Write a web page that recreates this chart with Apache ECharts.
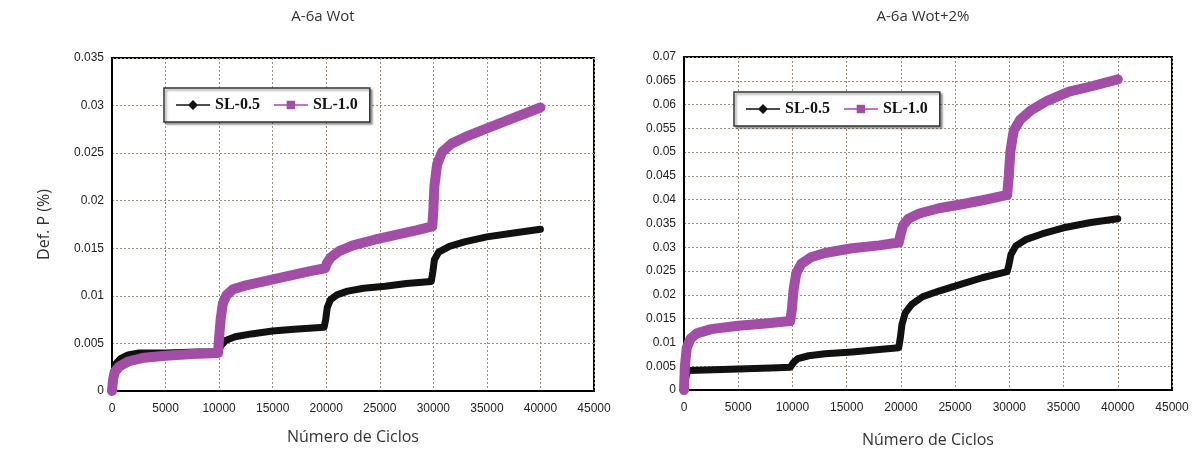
<!DOCTYPE html>
<html>
<head>
<meta charset="utf-8">
<script src="https://cdn.jsdelivr.net/npm/echarts@6/dist/echarts.min.js"></script>
<style>html,body{margin:0;padding:0;background:#fff}#c{width:1201px;height:463px}</style>
</head>
<body>
<div id="c"></div>
<script>
const titles = ['A-6a Wot', 'A-6a Wot+2%'];
const seriesNames = ['SL-0.5', 'SL-1.0'];
const xTicks = [0, 45000, 5000];
const yLeftTicks = [0, 0.035, 0.005];
const yRightTicks = [0, 0.07, 0.005];

// A-6a Wot
const wotSL05 = [[0,0],[100,0.0015],[300,0.0028],[800,0.0034],[1500,0.0038],[2500,0.004],[5000,0.004],[8000,0.0041],[9900,0.0041],[10200,0.0048],[10600,0.0053],[11500,0.0057],[13000,0.006],[15000,0.0063],[17000,0.0065],[19800,0.0067],[19950,0.0075],[20100,0.0088],[20400,0.0096],[21000,0.0101],[22000,0.0105],[23500,0.0108],[25500,0.011],[27500,0.0113],[29800,0.0115],[29950,0.0125],[30100,0.0138],[30500,0.0146],[31500,0.0152],[33000,0.0157],[35000,0.0162],[37500,0.0166],[40000,0.017]];
const wotSL10 = [[0,0],[100,0.0012],[250,0.002],[700,0.0026],[1500,0.0031],[3000,0.0035],[5000,0.0037],[7500,0.0039],[9900,0.004],[10000,0.0056],[10150,0.0076],[10350,0.0092],[10700,0.0101],[11300,0.0107],[12500,0.0111],[14500,0.0116],[16500,0.0121],[18500,0.0126],[19900,0.0129],[20050,0.0134],[20400,0.014],[21200,0.0147],[22500,0.0153],[24500,0.0159],[26500,0.0164],[28500,0.0169],[29900,0.0173],[30000,0.019],[30100,0.0215],[30350,0.0238],[30800,0.0251],[31700,0.026],[33000,0.0267],[35000,0.0276],[37500,0.0287],[40000,0.0298]];

// A-6a Wot+2%
const wot2SL05 = [[0,0],[150,0.0025],[350,0.0041],[2000,0.0042],[5000,0.0044],[8000,0.0046],[9800,0.0048],[10100,0.0058],[10500,0.0066],[11500,0.0072],[13000,0.0076],[15500,0.008],[18000,0.0085],[19800,0.0089],[19950,0.011],[20100,0.0138],[20400,0.0162],[21000,0.018],[22000,0.0196],[23500,0.0208],[25500,0.0222],[27500,0.0236],[29800,0.0249],[29950,0.0262],[30150,0.0285],[30600,0.0303],[31500,0.0316],[33000,0.0328],[35000,0.0341],[37500,0.0352],[40000,0.036]];
const wot2SL10 = [[0,0],[80,0.005],[250,0.0088],[600,0.0108],[1200,0.0119],[2500,0.0128],[5000,0.0135],[7500,0.014],[9800,0.0145],[9950,0.017],[10100,0.021],[10350,0.0245],[10800,0.0265],[11700,0.0279],[13000,0.0288],[15500,0.0298],[18000,0.0304],[19800,0.031],[19950,0.0325],[20200,0.0346],[20700,0.036],[21700,0.0371],[23500,0.0382],[26000,0.0392],[28000,0.0401],[29800,0.041],[29950,0.045],[30100,0.0502],[30400,0.0545],[31000,0.0568],[32000,0.0588],[33500,0.0608],[35500,0.0627],[37500,0.0638],[40000,0.0653]];

const purple = '#a24ea6';
const black = '#111111';
const gridColor = '#a08c7c';
const iconDiamond = 'path://M0,8.25H13.5L18,3.75L22.5,8.25H36V9.75H22.5L18,14.25L13.5,9.75H0Z';
const iconSquare = 'path://M0,8.25H13.5V4.5H22.5V8.25H36V9.75H22.5V13.5H13.5V9.75H0Z';

function xAx(i, gap) {
  return {
    gridIndex: i, type: 'value', min: xTicks[0], max: xTicks[1], interval: xTicks[2],
    name: 'Número de Ciclos', nameLocation: 'middle', nameGap: gap,
    nameTextStyle: { fontFamily: 'Open Sans', fontSize: 16, color: '#333' },
    axisLine: { show: true, lineStyle: { color: '#000', width: 2 } },
    axisTick: { show: false },
    axisLabel: { fontFamily: 'Liberation Sans', fontSize: 12, color: '#222', margin: 12,
      formatter: v => String(v) },
    splitLine: { show: true, lineStyle: { color: gridColor, type: [2, 2], width: 1 } }
  };
}
function yAx(i, t, name) {
  return {
    gridIndex: i, type: 'value', min: t[0], max: t[1], interval: t[2],
    name: name, nameLocation: 'middle', nameGap: 60,
    nameTextStyle: { fontFamily: 'Open Sans', fontSize: 16, color: '#333' },
    axisLine: { show: true, lineStyle: { color: '#000', width: 2 } },
    axisTick: { show: false },
    axisLabel: { fontFamily: 'Liberation Sans', fontSize: 12, color: '#222', margin: 8,
      formatter: v => String(+v.toFixed(4)) },
    splitLine: { show: true, lineStyle: { color: gridColor, type: [2, 2], width: 1 } }
  };
}
function legend(i, left, top) {
  return {
    show: true, left: left, top: top, orient: 'horizontal',
    data: [{ name: seriesNames[0], icon: iconDiamond }, { name: seriesNames[1], icon: iconSquare }],
    itemWidth: 34, itemHeight: 17, itemGap: 14,
    textStyle: { fontFamily: 'Liberation Serif', fontWeight: 'bold', fontSize: 16, color: '#111' },
    borderColor: '#333', borderWidth: 1.5, padding: [9, 12, 9, 12],
    backgroundColor: '#fff',
    shadowColor: 'rgba(0,0,0,0.35)', shadowOffsetX: 2, shadowOffsetY: 2, shadowBlur: 2
  };
}
function line(name, data, xi, color, w) {
  return {
    name: name, type: 'line', xAxisIndex: xi, yAxisIndex: xi, data: data,
    showSymbol: false, symbol: 'none', animation: false,
    lineStyle: { color: color, width: w, join: 'round', cap: 'round' },
    itemStyle: { color: color }
  };
}

const chart = echarts.init(document.getElementById('c'));
chart.setOption({
  backgroundColor: '#fff',
  animation: false,
  title: [
    { text: titles[0], left: 318, top: 4, textAlign: 'center',
      textStyle: { fontFamily: 'Open Sans', fontWeight: 'normal', fontSize: 15, color: '#333' } },
    { text: titles[1], left: 918, top: 4, textAlign: 'center',
      textStyle: { fontFamily: 'Open Sans', fontWeight: 'normal', fontSize: 15, color: '#333' } }
  ],
  legend: [legend(0, 164, 88), legend(1, 734, 92)],
  grid: [
    { left: 112, top: 58, width: 482, height: 333, show: true, borderColor: '#000', borderWidth: 2, backgroundColor: '#fff' },
    { left: 684, top: 57, width: 488, height: 333, show: true, borderColor: '#000', borderWidth: 2, backgroundColor: '#fff' }
  ],
  xAxis: [xAx(0, 38), xAx(1, 42)],
  yAxis: [yAx(0, yLeftTicks, 'Def. P (%)'), yAx(1, yRightTicks, '')],
  series: [
    line(seriesNames[0], wotSL05, 0, black, 7),
    line(seriesNames[1], wotSL10, 0, purple, 10),
    line(seriesNames[0], wot2SL05, 1, black, 7),
    line(seriesNames[1], wot2SL10, 1, purple, 10)
  ]
});
</script>
</body>
</html>
